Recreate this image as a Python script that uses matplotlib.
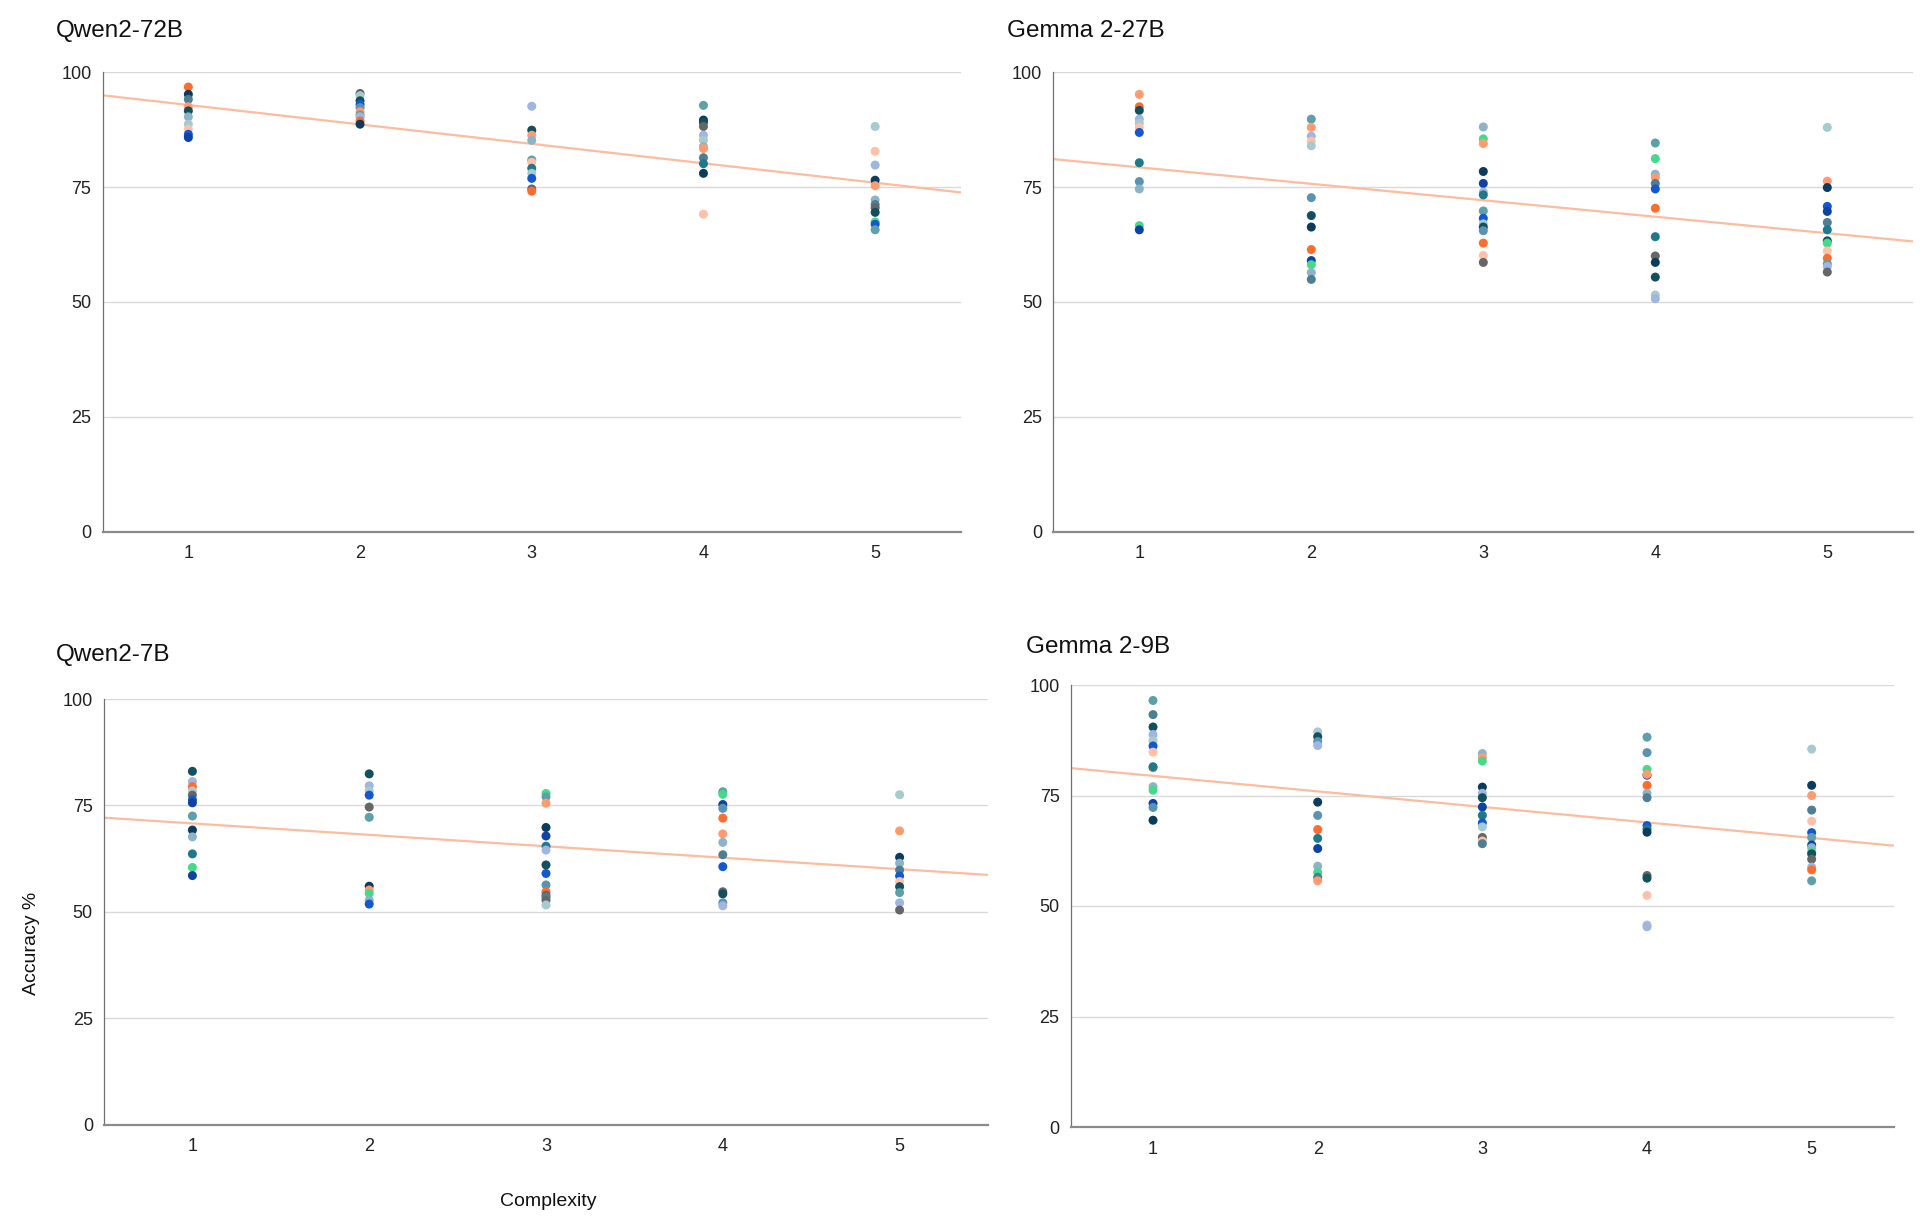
import numpy as np
import matplotlib
matplotlib.use("Agg")
import matplotlib.pyplot as plt

plt.rcParams['font.family'] = ['Liberation Sans', 'DejaVu Sans']

# ---------------- data ----------------
complexity = [1, 2, 3, 4, 5]
y_ticks = [0, 25, 50, 75, 100]

palette = {
    "O": "#ff6d2e", "LO": "#ff9b6e", "P": "#fcc1a8", "G": "#45d98c",
    "N": "#0b3c5d", "DT": "#12505e", "T": "#1e7a8a", "TL": "#5f9fa9",
    "SD": "#4d7e94", "S": "#5a93b2", "LS": "#8db3c7", "PT": "#a6cacd",
    "PW": "#a0b5df", "B": "#1358d0", "DB": "#0e42a3", "GR": "#666666",
}

titles = ["Qwen2-72B", "Gemma 2-27B", "Qwen2-7B", "Gemma 2-9B"]

qwen72_vals = [
    [96.8, 95.2, 94.1, 92.5, 91.6, 90.3, 88.7, 87.6, 86.5, 85.8],
    [95.4, 94.9, 93.8, 93.0, 92.3, 91.4, 90.7, 90.3, 89.4, 88.7],
    [92.6, 87.4, 86.3, 85.2, 80.9, 80.4, 79.1, 78.0, 76.9, 74.6, 74.1],
    [92.8, 89.6, 89.1, 88.2, 86.3, 85.2, 83.8, 83.4, 81.4, 80.1, 78.0, 69.1],
    [88.2, 82.8, 79.8, 76.5, 75.3, 72.2, 71.2, 70.5, 69.5, 67.4, 66.9, 65.7],
]
qwen72_cols = [
    ["O", "N", "SD", "LO", "DT", "LS", "PT", "P", "B", "DB"],
    ["GR", "PT", "DT", "B", "S", "LO", "TL", "PW", "O", "N"],
    ["PW", "DT", "LO", "LS", "TL", "P", "T", "PT", "B", "GR", "O"],
    ["TL", "N", "DT", "GR", "PW", "PT", "LS", "LO", "SD", "T", "N", "P"],
    ["PT", "P", "PW", "N", "LO", "LS", "SD", "GR", "DT", "G", "B", "TL"],
]

gemma27_vals = [
    [95.2, 92.5, 91.7, 89.8, 88.9, 88.0, 86.9, 80.3, 76.2, 74.6, 66.6, 65.7],
    [89.8, 88.0, 86.1, 85.0, 84.0, 72.7, 68.8, 66.3, 61.4, 59.0, 58.1, 56.4, 54.9],
    [88.1, 85.5, 84.5, 78.4, 75.8, 73.9, 73.3, 69.8, 68.2, 67.0, 66.3, 65.5, 62.8, 60.1, 58.6],
    [84.6, 81.2, 77.8, 77.1, 75.8, 74.6, 70.4, 64.2, 60.0, 58.6, 55.4, 51.5, 50.7],
    [88.0, 76.3, 74.9, 70.8, 69.7, 67.3, 65.7, 63.3, 62.8, 61.1, 59.5, 58.3, 57.7, 56.5],
]
gemma27_cols = [
    ["LO", "O", "DT", "PW", "PT", "P", "B", "T", "S", "LS", "G", "DB"],
    ["TL", "LO", "PW", "P", "PT", "S", "DT", "N", "O", "DB", "G", "LS", "SD"],
    ["LS", "G", "LO", "N", "DB", "PW", "T", "TL", "B", "PT", "DT", "S", "O", "P", "GR"],
    ["TL", "G", "LS", "LO", "SD", "B", "O", "T", "GR", "N", "DT", "PT", "PW"],
    ["PT", "LO", "N", "B", "DB", "SD", "T", "DT", "G", "P", "O", "TL", "PW", "GR"],
]

qwen7_vals = [
    [83.0, 80.6, 79.4, 78.4, 77.4, 76.3, 75.6, 72.5, 69.2, 67.6, 63.6, 60.4, 58.5],
    [82.4, 79.6, 78.4, 77.4, 74.6, 72.2, 56.0, 55.1, 54.3, 52.7, 51.8],
    [77.8, 77.0, 75.5, 69.8, 67.8, 65.4, 64.5, 61.0, 59.0, 56.3, 54.7, 53.9, 53.4, 52.7, 51.6],
    [78.2, 77.6, 75.2, 74.3, 72.0, 68.3, 66.3, 63.4, 60.6, 54.7, 54.2, 52.1, 51.4],
    [77.5, 69.0, 62.8, 61.4, 59.8, 58.4, 57.1, 55.9, 54.5, 52.1, 50.4],
]
qwen7_cols = [
    ["DT", "PW", "O", "PT", "GR", "B", "DB", "TL", "N", "LS", "T", "G", "DB"],
    ["DT", "PW", "PT", "B", "GR", "TL", "N", "LO", "G", "LS", "B"],
    ["G", "TL", "LO", "N", "DB", "T", "PW", "DT", "B", "S", "O", "GR", "SD", "GR", "PT"],
    ["TL", "G", "DB", "S", "O", "LO", "LS", "SD", "B", "GR", "DT", "S", "PW"],
    ["PT", "LO", "N", "LS", "SD", "B", "P", "DT", "TL", "PW", "GR"],
]

gemma9_vals = [
    [96.5, 93.3, 90.5, 88.8, 87.4, 86.2, 84.8, 81.3, 81.5, 77.0, 76.2, 73.2, 72.3, 69.4],
    [89.4, 88.3, 87.2, 86.3, 73.5, 70.5, 67.3, 65.3, 63.0, 59.0, 57.6, 56.5, 55.7],
    [84.5, 83.6, 82.8, 76.9, 75.5, 74.5, 72.4, 70.5, 68.8, 67.9, 65.5, 64.7, 64.1],
    [88.2, 84.7, 80.9, 79.6, 79.8, 77.3, 75.5, 74.5, 68.2, 67.4, 66.7, 56.9, 56.3, 52.4, 45.7, 45.3],
    [85.5, 77.3, 75.0, 71.7, 69.2, 66.6, 65.5, 63.8, 63.2, 62.2, 61.8, 60.6, 58.8, 58.2, 55.7],
]
gemma9_cols = [
    ["TL", "SD", "DT", "PW", "PT", "B", "P", "O", "T", "LS", "G", "DB", "S", "N"],
    ["PT", "DT", "S", "PW", "N", "S", "O", "T", "DB", "LS", "G", "SD", "LO"],
    ["LS", "LO", "G", "N", "PW", "DT", "DB", "T", "B", "PT", "GR", "P", "SD"],
    ["TL", "S", "G", "DB", "LO", "O", "LS", "SD", "B", "T", "N", "GR", "DT", "P", "PT", "PW"],
    ["PT", "N", "LO", "SD", "P", "B", "TL", "DB", "LS", "G", "DT", "GR", "PW", "O", "TL"],
]

panel_vals = [qwen72_vals, gemma27_vals, qwen7_vals, gemma9_vals]
panel_cols = [qwen72_cols, gemma27_cols, qwen7_cols, gemma9_cols]

# ---------------- layout (pixels) ----------------
W, H = 1930, 1231
fig = plt.figure(figsize=(W / 100, H / 100), dpi=100)

# left, right, top, bottom in pixels
boxes = [
    (102.5, 961, 72.3, 531.5),
    (1053.3, 1913.3, 72.3, 531.5),
    (104, 988, 699, 1124.5),
    (1070.7, 1894, 685, 1127),
]
title_pos = [(56, 31), (1007, 31), (56, 655), (1026, 647)]

for i in range(4):
    l, r, t, b = boxes[i]
    ax = fig.add_axes([l / W, 1 - b / H, (r - l) / W, (b - t) / H])
    xs, ys, cs = [], [], []
    for k, cx in enumerate(complexity):
        for v, c in zip(panel_vals[i][k], panel_cols[i][k]):
            xs.append(cx)
            ys.append(v)
            cs.append(palette[c])
    xs = np.array(xs, dtype=float)
    ys = np.array(ys, dtype=float)
    slope, icpt = np.polyfit(xs, ys, 1)
    xl = np.array([0.5, 5.5])
    ax.plot(xl, slope * xl + icpt, color="#fdbba0", lw=1.6, zorder=2,
            solid_capstyle="butt")
    ax.scatter(xs, ys, s=42, c=cs, edgecolors="none", zorder=3)

    ax.set_xlim(0.5, 5.5)
    ax.set_ylim(0, 100)
    ax.set_xticks(complexity)
    ax.set_yticks(y_ticks)
    ax.set_xticklabels([str(c) for c in complexity])
    ax.set_yticklabels([str(v) for v in y_ticks])
    ax.tick_params(length=0, labelsize=13, colors="#222222")
    ax.tick_params(axis="y", pad=8)
    ax.tick_params(axis="x", pad=10)
    ax.grid(axis="y", color="#d9d9d9", lw=1.0, zorder=0)
    ax.set_axisbelow(True)
    for s in ["top", "right"]:
        ax.spines[s].set_visible(False)
    ax.spines["left"].set_color("#707070")
    ax.spines["left"].set_linewidth(0.9)
    ax.spines["bottom"].set_color("#8a8a8a")
    ax.spines["bottom"].set_linewidth(1.6)

    tx, ty = title_pos[i]
    fig.text(tx / W, 1 - ty / H, titles[i], fontsize=17.5, color="#111111",
             ha="left", va="center")

fig.text(31 / W, 1 - 943 / H, "Accuracy %", rotation=90, fontsize=14,
         color="#111111", ha="center", va="center")
fig.text(548 / W, 1 - 1201 / H, "Complexity", fontsize=14,
         color="#111111", ha="center", va="center")

fig.savefig("out.png", dpi=100, facecolor="white")
